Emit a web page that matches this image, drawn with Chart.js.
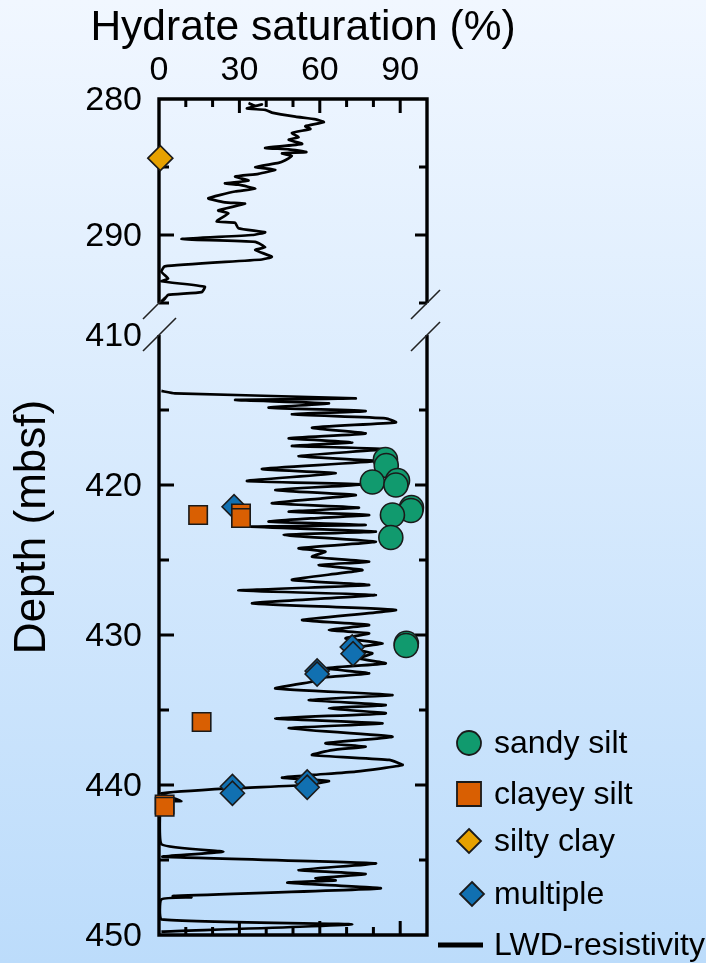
<!DOCTYPE html>
<html>
<head>
<meta charset="utf-8">
<script src="https://cdn.jsdelivr.net/npm/chart.js@4.4.1/dist/chart.umd.min.js"></script>
<style>
  html, body { margin: 0; padding: 0; background: #d9e9fc; }
  #wrap { width: 706px; height: 963px; }
</style>
</head>
<body>
<div id="wrap"><canvas id="chart" width="706" height="963"></canvas></div>
<script>
// LWD-resistivity derived saturation, [saturation %, depth mbsf]
const lwdUpper = [
    [33.4, 280.3], [35.9, 280.5], [38.4, 280.4], [32.8, 280.7], [39.6, 280.8], [42.1, 281.0],
    [50.9, 281.3], [58.5, 281.5], [61.5, 281.7], [54.6, 282.0], [56.5, 282.2], [49.6, 282.5],
    [52.1, 282.8], [48.4, 283.0], [53.4, 283.3], [39.6, 283.6], [48.4, 283.7], [55.0, 283.9],
    [45.9, 284.0], [49.6, 284.2], [47.1, 284.5], [44.6, 284.7], [35.9, 285.0], [43.4, 285.2],
    [37.1, 285.5], [28.4, 285.7], [33.4, 286.0], [24.6, 286.2], [29.6, 286.3], [35.9, 286.6],
    [28.4, 286.8], [18.4, 287.3], [24.6, 287.6], [32.1, 287.7], [22.1, 288.2], [25.9, 288.4],
    [21.5, 289.0], [28.4, 289.1], [29.6, 289.5], [39.6, 289.8], [34.7, 290.0], [8.4, 290.3],
    [35.9, 290.5], [39.6, 290.9], [35.9, 291.1], [42.1, 291.6], [38.4, 291.8], [2.1, 292.3],
    [0.9, 292.7], [3.4, 293.2], [0.9, 293.4], [17.1, 293.8], [15.9, 294.2], [3.4, 294.4],
    [2.1, 294.7], [0.9, 294.9]
];
const lwdLower = [
    [0.9, 413.73], [5.9, 413.89], [73.4, 414.22], [28.4, 414.33], [63.4, 414.56], [40.9, 414.84],
    [77.1, 415.07], [49.6, 415.29], [84.6, 415.56], [88.4, 415.82], [57.1, 416.18], [77.1, 416.56],
    [48.4, 416.89], [72.1, 417.16], [49.6, 417.4], [85.3, 417.6], [52.1, 418.07], [80.9, 418.4],
    [38.4, 418.93], [65.9, 419.22], [32.8, 419.73], [75.9, 419.96], [43.4, 420.33], [73.4, 420.67],
    [60.9, 420.89], [42.1, 421.22], [74.6, 421.51], [48.4, 421.78], [78.4, 422.0], [57.1, 422.22],
    [40.9, 422.44], [77.1, 422.67], [34.0, 422.78], [80.9, 423.11], [46.5, 423.33], [80.9, 423.78],
    [52.1, 424.22], [62.1, 424.44], [57.1, 424.78], [78.4, 425.11], [59.6, 425.33], [75.9, 425.67],
    [67.1, 425.89], [49.6, 426.33], [78.4, 426.67], [29.6, 427.04], [80.9, 427.33], [34.7, 427.89],
    [88.4, 428.33], [53.4, 429.0], [78.4, 429.33], [63.4, 429.67], [78.4, 429.89], [69.6, 430.22],
    [83.4, 430.56], [70.9, 430.89], [79.6, 431.22], [74.6, 431.56], [84.6, 431.89], [62.1, 432.22],
    [78.4, 432.56], [57.1, 432.89], [60.9, 433.0], [43.4, 433.56], [87.1, 434.0], [55.9, 434.33],
    [84.6, 434.67], [63.4, 434.89], [84.6, 435.22], [43.4, 435.56], [83.4, 435.89], [48.4, 436.22],
    [87.1, 436.78], [62.1, 437.22], [77.1, 437.44], [64.6, 437.67], [57.1, 438.0], [85.9, 438.33],
    [90.9, 438.67], [73.4, 439.11], [57.1, 439.33], [45.9, 439.51], [63.4, 439.73], [55.3, 440.0],
    [27.1, 440.22], [0.9, 440.56], [8.4, 441.07], [0.9, 441.16], [0.9, 443.95], [24.0, 444.44],
    [1.3, 444.78], [80.9, 445.22], [52.1, 445.67], [77.1, 445.93], [58.4, 446.22], [65.9, 446.36],
    [47.9, 446.51], [82.7, 446.89], [5.2, 447.4], [12.1, 447.49], [0.9, 447.62], [0.9, 448.96],
    [72.1, 449.29], [0.9, 449.78]
];

// Core samples by lithology, [saturation %, depth mbsf]
const sandySilt = [
    [84.5, 418.3], [84.8, 418.7], [79.6, 419.8], [89.0, 419.7], [88.4, 420.0], [94.2, 421.5],
    [94.0, 421.7], [87.1, 422.0], [86.5, 423.5], [92.3, 430.55], [92.2, 430.7]
];
const clayeySilt = [
    [14.6, 422.0], [30.6, 421.9], [30.6, 422.2], [15.9, 435.8], [2.1, 441.3], [2.1, 441.45]
];
const siltyClay = [[0.5, 284.35]];
const multiple = [
    [28.0, 421.45], [72.1, 430.8], [72.4, 431.25], [59.0, 432.4], [59.0, 432.6],
    [27.4, 440.1], [27.4, 440.55], [55.3, 439.8], [55.3, 440.15]
];

// Axis ticks
const xTicks = [0, 10, 20, 30, 40, 50, 60, 70, 80, 90, 100];
const xTickLabels = ['0', '30', '60', '90'];
const yTopTicks = [280, 285, 290, 295];
const yBotTicks = [410, 415, 420, 425, 430, 435, 440, 445, 450];
const yTopLabels = ['280', '290'];
const yBotLabels = ['410', '420', '430', '440', '450'];

const fontFamily = '"Liberation Sans", Arial, Helvetica, sans-serif';
const toXY = (arr) => arr.map(d => ({ x: d[0], y: d[1] }));

function drawMarker(ctx, style, x, y, r, fill) {
    ctx.save();
    ctx.fillStyle = fill;
    ctx.strokeStyle = '#1a1a1a';
    ctx.lineWidth = 1.8;
    ctx.beginPath();
    if (style === 'circle') {
        ctx.arc(x, y, r, 0, Math.PI * 2);
    } else if (style === 'rect') {
        const s = r * Math.SQRT1_2;
        ctx.rect(x - s, y - s, 2 * s, 2 * s);
    } else {
        ctx.moveTo(x, y - r); ctx.lineTo(x + r, y); ctx.lineTo(x, y + r); ctx.lineTo(x - r, y);
        ctx.closePath();
    }
    ctx.fill();
    ctx.stroke();
    ctx.restore();
}

// Background, broken frame, inward ticks and labels
const framePlugin = {
    id: 'frame',
    beforeDraw(chart) {
        const { ctx, width, height } = chart;
        const g = ctx.createLinearGradient(0, 0, 0, height);
        g.addColorStop(0, '#f1f7ff');
        g.addColorStop(1, '#bcdcfb');
        ctx.save();
        ctx.fillStyle = g;
        ctx.fillRect(0, 0, width, height);
        ctx.restore();
    },
    beforeDatasetsDraw(chart) {
        const { ctx } = chart;
        const xs = chart.scales.x, yT = chart.scales.yTop, yB = chart.scales.yBot;
        const L = xs.getPixelForValue(0), R = xs.getPixelForValue(100);
        const t0 = yT.getPixelForValue(280), t1 = yT.getPixelForValue(295);
        const b0 = yB.getPixelForValue(410), b1 = yB.getPixelForValue(450);

        ctx.save();
        ctx.strokeStyle = '#000';
        ctx.lineWidth = 3.4;
        ctx.lineJoin = 'miter';
        ctx.beginPath();
        ctx.moveTo(L, t1); ctx.lineTo(L, t0); ctx.lineTo(R, t0); ctx.lineTo(R, t1);
        ctx.stroke();
        ctx.beginPath();
        ctx.moveTo(L, b0); ctx.lineTo(L, b1); ctx.lineTo(R, b1); ctx.lineTo(R, b0);
        ctx.stroke();

        // x ticks (top and bottom, pointing inward)
        ctx.lineWidth = 3;
        xTicks.forEach(v => {
            if (v === 0 || v === 100) return;
            const px = xs.getPixelForValue(v);
            const len = v % 30 === 0 ? 14 : 8;
            ctx.beginPath();
            ctx.moveTo(px, t0); ctx.lineTo(px, t0 + len);
            ctx.moveTo(px, b1); ctx.lineTo(px, b1 - len);
            ctx.stroke();
        });
        // y ticks on both sides
        const yTick = (scale, v) => {
            const py = scale.getPixelForValue(v);
            const major = v % 10 === 0;
            ctx.beginPath();
            ctx.moveTo(L, py); ctx.lineTo(L + (major ? 15 : 10), py);
            ctx.moveTo(R, py); ctx.lineTo(R - (major ? 12 : 8), py);
            ctx.stroke();
        };
        yTopTicks.slice(1).forEach(v => yTick(yT, v));
        yBotTicks.slice(1, -1).forEach(v => yTick(yB, v));

        // axis break marks
        ctx.lineWidth = 1.6;
        ctx.strokeStyle = '#222';
        [[L, t1, 6], [R, t1, 13], [L, b0, 17], [R, b0, 13]].forEach(([x, y, up]) => {
            ctx.beginPath();
            ctx.moveTo(x - 16, y + 16);
            ctx.lineTo(x + up, y - up);
            ctx.stroke();
        });

        // tick labels
        ctx.fillStyle = '#000';
        ctx.font = '34px ' + fontFamily;
        ctx.textAlign = 'center';
        ctx.textBaseline = 'middle';
        xTickLabels.forEach(t => ctx.fillText(t, xs.getPixelForValue(Number(t)), 71));
        ctx.textAlign = 'right';
        yTopLabels.forEach(t => ctx.fillText(t, L - 17, yT.getPixelForValue(Number(t)) + 2));
        yBotLabels.forEach(t => ctx.fillText(t, L - 17, yB.getPixelForValue(Number(t)) + 2));

        // axis titles
        ctx.font = '42.5px ' + fontFamily;
        ctx.textAlign = 'center';
        ctx.fillText('Hydrate saturation (%)', 303, 28);
        ctx.font = '44px ' + fontFamily;
        ctx.translate(33, 527);
        ctx.rotate(-Math.PI / 2);
        ctx.fillText('Depth (mbsf)', 0, 0);
        ctx.restore();
    },
    afterDraw(chart) {
        // legend, lower right
        const { ctx } = chart;
        const rows = [743, 794, 841, 894, 945];
        ctx.save();
        ctx.font = '32px ' + fontFamily;
        ctx.fillStyle = '#000';
        ctx.textAlign = 'left';
        ctx.textBaseline = 'middle';
        chart.data.datasets.forEach((ds) => {
            if (ds.legendRow === undefined) return;
            const y = rows[ds.legendRow];
            if (ds.showLine) {
                ctx.strokeStyle = '#000';
                ctx.lineWidth = 5;
                ctx.beginPath();
                ctx.moveTo(438, y); ctx.lineTo(483, y);
                ctx.stroke();
            } else {
                drawMarker(ctx, ds.pointStyle, ds.legendRow === 3 ? 472 : 469, y,
                    ds.pointStyle === 'rect' ? 17 : 12, ds.backgroundColor);
            }
            ctx.fillStyle = '#000';
            ctx.fillText(ds.label, 494, y + 1);
        });
        ctx.restore();
    }
};

const markerBase = { type: 'scatter', borderColor: '#1a1a1a', borderWidth: 1.6, clip: false };
const lineBase = { showLine: true, pointRadius: 0, borderColor: '#000', borderWidth: 2.7,
                   tension: 0.15, borderJoinStyle: 'round', clip: false };

new Chart(document.getElementById('chart'), {
    type: 'scatter',
    data: {
        datasets: [
            { ...markerBase, label: 'sandy silt', legendRow: 0, yAxisID: 'yBot', data: toXY(sandySilt),
              pointStyle: 'circle', pointRadius: 12, backgroundColor: '#119a6e' },
            { ...markerBase, label: 'clayey silt', legendRow: 1, yAxisID: 'yBot', data: toXY(clayeySilt),
              pointStyle: 'rect', pointRadius: 13, backgroundColor: '#d95f02' },
            { ...markerBase, label: 'silty clay', legendRow: 2, yAxisID: 'yTop', data: toXY(siltyClay),
              pointStyle: 'rectRot', pointRadius: 12.5, backgroundColor: '#e6a100' },
            { ...markerBase, label: 'multiple', legendRow: 3, yAxisID: 'yBot', data: toXY(multiple),
              pointStyle: 'rectRot', pointRadius: 12, backgroundColor: '#1170b1' },
            { ...lineBase, label: 'LWD-resistivity', legendRow: 4, yAxisID: 'yBot', data: toXY(lwdLower) },
            { ...lineBase, label: 'LWD-resistivity', yAxisID: 'yTop', data: toXY(lwdUpper) }
        ]
    },
    options: {
        responsive: false,
        animation: false,
        layout: { padding: { left: 159, top: 99, right: 279, bottom: 28 } },
        plugins: { legend: { display: false }, tooltip: { enabled: false } },
        scales: {
            x: { type: 'linear', position: 'top', min: 0, max: 100, display: false },
            yBot: { type: 'linear', position: 'left', min: 410, max: 450, reverse: true,
                    stack: 'depth', stackWeight: 600, display: false },
            yTop: { type: 'linear', position: 'left', min: 280, max: 297.35, reverse: true,
                    stack: 'depth', stackWeight: 236, display: false }
        }
    },
    plugins: [framePlugin]
});
</script>
</body>
</html>
